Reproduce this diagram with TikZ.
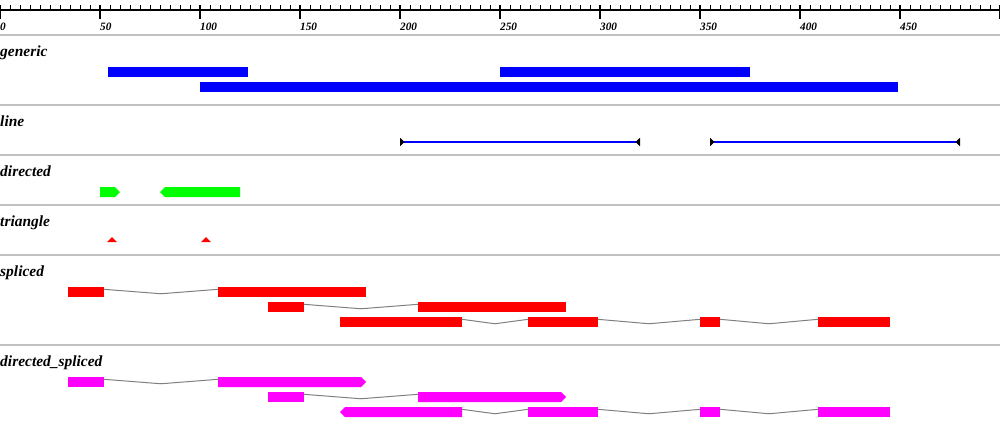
\documentclass[tikz,border=0pt]{standalone}
\usepackage{fontspec}
\setmainfont{Liberation Serif}
\usetikzlibrary{arrows.meta,calc,shapes.symbols}
\definecolor{trackblue}{HTML}{0000FF}
\definecolor{trackgreen}{HTML}{00FF00}
\definecolor{trackred}{HTML}{FF0000}
\definecolor{trackpink}{HTML}{FF00FF}
\definecolor{rulegray}{HTML}{C0C0C0}
\definecolor{introngray}{HTML}{808080}

\begin{document}
\begin{tikzpicture}[x=0.03cm,y=-0.03cm,
 sep/.style={line width=1.7pt,draw=rulegray},
 lbl/.style={anchor=base west,inner sep=0pt,font=\fontsize{13.2}{15}\selectfont\bfseries\itshape},
 num/.style={anchor=base west,inner sep=0pt,font=\fontsize{9.6}{11}\selectfont\bfseries\itshape},
 bar/.style={rectangle,anchor=west,inner sep=0pt,outer sep=0pt,minimum height=0.3cm},
 arr/.style={signal,signal pointer angle=90,anchor=west,inner sep=0pt,outer sep=0pt,minimum height=0.3cm},
 intron/.style={draw=introngray,line width=0.85pt},
 seg/.style={{Triangle[reversed,length=3.8pt,width=7pt,color=black]}-{Triangle[reversed,length=3.8pt,width=7pt,color=black]},line width=1.7pt,trackblue}]
\useasboundingbox (0,0) rectangle (1000,435);

% ruler
\draw[line width=1.3pt] (0,10) -- (1000,10);
\foreach \i in {0,...,99} \draw[line width=0.85pt] (\i*10,5) -- (\i*10,10);
\foreach \i in {0,...,10} \draw[line width=1.7pt] (\i*100,5) -- (\i*100,19);
\foreach \i [evaluate=\i as \v using int(\i*50)] in {0,...,9}
  \node[num] (n\i) at (\i*100,30) {\v};

\foreach \y in {35,105,155,205,255,345} \draw[sep] (0,\y) -- (1000,\y);

% track labels
\node[lbl] (lab-generic) at (0,56) {generic};
\node[lbl] (lab-line) at (0,126) {line};
\node[lbl] (lab-directed) at (0,176) {directed};
\node[lbl] (lab-triangle) at (0,226) {triangle};
\node[lbl] (lab-spliced) at (0,276) {spliced};
\node[lbl] (lab-dspliced) at (0,366) {directed\_spliced};

% generic
\node[bar,fill=trackblue,minimum width=4.2cm] (g1) at (108,72) {};
\node[bar,fill=trackblue,minimum width=7.5cm] (g2) at (500,72) {};
\node[bar,fill=trackblue,minimum width=20.94cm] (g3) at (200,87) {};

% line
\coordinate (l1a) at (400,142); \coordinate (l1b) at (640,142);
\coordinate (l2a) at (710,142); \coordinate (l2b) at (960,142);
\draw[seg] (l1a) -- (l1b);
\draw[seg] (l2a) -- (l2b);

% directed
\node[arr,signal to=east,fill=trackgreen,minimum width=0.6cm] (dr1) at (100,192) {};
\node[arr,signal to=west,fill=trackgreen,minimum width=2.4cm] (dr2) at (160,192) {};

% triangle
\fill[trackred] (107,242) -- (117,242) -- (112,237) -- cycle;
\fill[trackred] (201,242) -- (211,242) -- (206,237) -- cycle;

% spliced
\node[bar,fill=trackred,minimum width=1.08cm] (s1a) at (68,292) {};
\node[bar,fill=trackred,minimum width=4.44cm] (s1b) at (218,292) {};
\node[bar,fill=trackred,minimum width=1.08cm] (s2a) at (268,307) {};
\node[bar,fill=trackred,minimum width=4.44cm] (s2b) at (418,307) {};
\node[bar,fill=trackred,minimum width=3.66cm] (s3a) at (340,322) {};
\node[bar,fill=trackred,minimum width=2.1cm] (s3b) at (528,322) {};
\node[bar,fill=trackred,minimum width=0.6cm] (s3c) at (700,322) {};
\node[bar,fill=trackred,minimum width=2.16cm] (s3d) at (818,322) {};

% directed_spliced
\node[bar,fill=trackpink,minimum width=1.08cm] (d1a) at (68,382) {};
\node[arr,signal to=east,fill=trackpink,minimum width=4.44cm] (d1b) at (218,382) {};
\node[bar,fill=trackpink,minimum width=1.08cm] (d2a) at (268,397) {};
\node[arr,signal to=east,fill=trackpink,minimum width=4.44cm] (d2b) at (418,397) {};
\node[arr,signal to=west,fill=trackpink,minimum width=3.66cm] (d3a) at (340,412) {};
\node[bar,fill=trackpink,minimum width=2.1cm] (d3b) at (528,412) {};
\node[bar,fill=trackpink,minimum width=0.6cm] (d3c) at (700,412) {};
\node[bar,fill=trackpink,minimum width=2.16cm] (d3d) at (818,412) {};

% introns
\foreach \a/\b in {s1a/s1b,s2a/s2b,s3a/s3b,s3b/s3c,s3c/s3d,d1a/d1b,d2a/d2b,d3a/d3b,d3b/d3c,d3c/d3d}
  \draw[intron] ([yshift=2.3pt]\a.east) -- ($(\a.east)!0.5!(\b.west)+(0,-1.5pt)$) -- ([yshift=2.3pt]\b.west);
\end{tikzpicture}
\end{document}
